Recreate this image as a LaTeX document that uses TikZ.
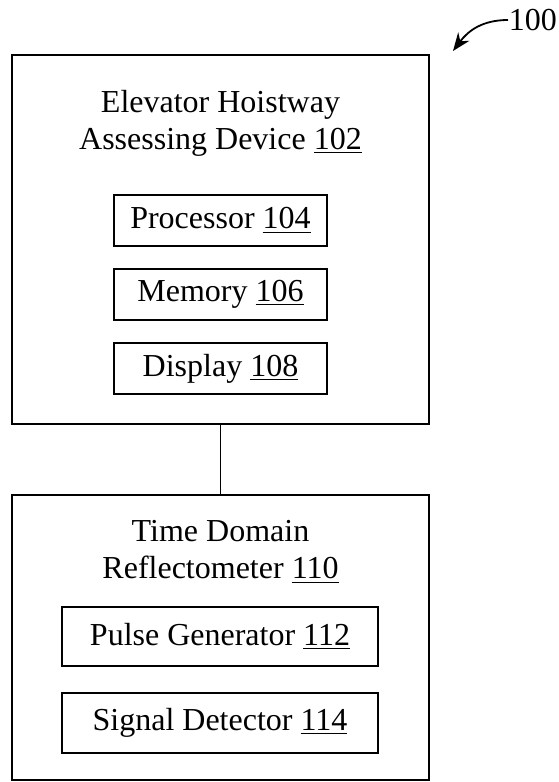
\documentclass[tikz,border=0pt]{standalone}
\usepackage{fontspec}
\setmainfont{Liberation Serif}
\usetikzlibrary{arrows.meta}

\begin{document}
\begin{tikzpicture}[x=0.5pt,y=-0.5pt,line width=0.9pt,>={Stealth[length=9pt,width=7pt]}]
  \tikzstyle{every node}=[font=\fontsize{16}{18.5}\selectfont];
  \tikzstyle{outerbox}=[draw,minimum width=208.5pt,inner sep=0pt];
  \tikzstyle{partbox}=[draw,inner sep=0pt];
  \useasboundingbox (0,0) rectangle (558,782);

  % assessing device
  \node[outerbox,minimum height=184.5pt] (dev) at (220.5,239.5) {};
  \node[align=center] (devtitle) at (220.5,123) {Elevator Hoistway\\Assessing Device \underline{102}};
  \node[partbox,minimum width=106.5pt,minimum height=25.5pt] (proc) at (220.5,220.5) {Processor \underline{104}};
  \node[partbox,minimum width=106.5pt,minimum height=25.5pt] (mem) at (220.5,294.5) {Memory \underline{106}};
  \node[partbox,minimum width=106.5pt,minimum height=25.5pt] (disp) at (220.5,368.5) {Display \underline{108}};

  % reflectometer
  \node[outerbox,minimum height=142.5pt] (tdr) at (220.5,637.5) {};
  \node[align=center] (tdrtitle) at (220.5,552) {Time Domain\\Reflectometer \underline{110}};
  \node[partbox,minimum width=158pt,minimum height=29.5pt] (pulse) at (220,636.5) {Pulse Generator \underline{112}};
  \node[partbox,minimum width=158pt,minimum height=30pt] (det) at (220,723) {Signal Detector \underline{114}};

  \draw (dev.south) -- (tdr.north);

  % reference numeral
  \node[anchor=west,inner sep=0pt] (ref) at (508,20) {100};
  \coordinate (reftip) at (453,51);
  \draw[->] (ref.west) .. controls (482,20) and (468,31) .. (reftip);
\end{tikzpicture}
\end{document}
